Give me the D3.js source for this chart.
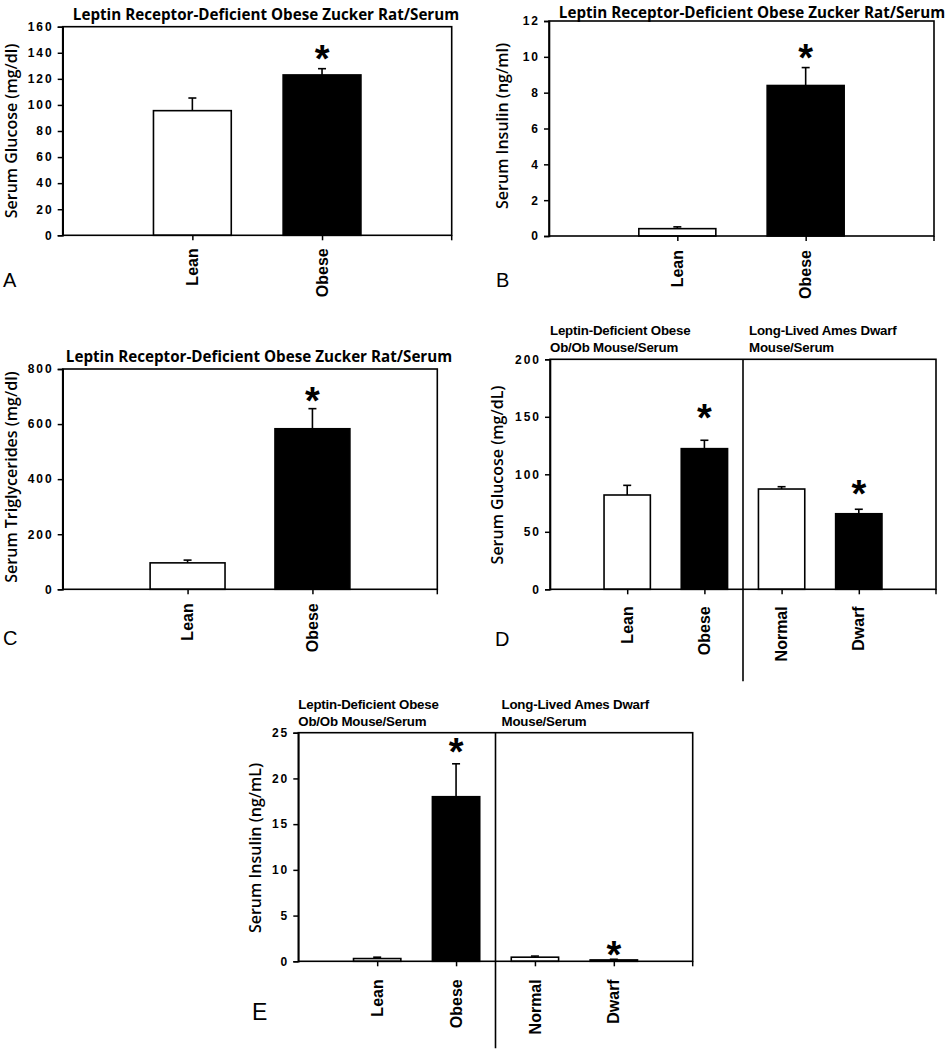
<!DOCTYPE html>
<html>
<head>
<meta charset="utf-8">
<script src="https://cdn.jsdelivr.net/npm/d3@7/dist/d3.min.js"></script>
<style>
  html, body { margin: 0; padding: 0; background: #fff; }
  svg { display: block; }
</style>
</head>
<body>
<svg id="chart" width="950" height="1050"></svg>
<script>
// ---------------- DATA ----------------
const ratCategories = ["Lean", "Obese"];
const mouseCategories = ["Lean", "Obese", "Normal", "Dwarf"];

const ratTitle = "Leptin Receptor-Deficient Obese Zucker Rat/Serum";
const mouseGroupLeft = ["Leptin-Deficient Obese", "Ob/Ob Mouse/Serum"];
const mouseGroupRight = ["Long-Lived Ames Dwarf", "Mouse/Serum"];

// Panel A – serum glucose (mg/dl)
const glucoseRat = [95.6, 123];
const glucoseRatErr = [9.7, 4.8];
const glucoseRatSig = [false, true];
const glucoseRatTicks = [0, 20, 40, 60, 80, 100, 120, 140, 160];

// Panel B – serum insulin (ng/ml)
const insulinRat = [0.41, 8.4];
const insulinRatErr = [0.1, 1.0];
const insulinRatSig = [false, true];
const insulinRatTicks = [0, 2, 4, 6, 8, 10, 12];

// Panel C – serum triglycerides (mg/dl)
const tgRat = [96, 583];
const tgRatErr = [10, 73];
const tgRatSig = [false, true];
const tgRatTicks = [0, 200, 400, 600, 800];

// Panel D – serum glucose (mg/dL), mice
const glucoseMouse = [82, 122.3, 87.2, 65.7];
const glucoseMouseErr = [8.4, 7.3, 2.0, 3.9];
const glucoseMouseSig = [false, true, false, true];
const glucoseMouseTicks = [0, 50, 100, 150, 200];

// Panel E – serum insulin (ng/mL), mice
const insulinMouse = [0.3, 18.0, 0.45, 0.15];
const insulinMouseErr = [0.15, 3.6, 0.12, 0.07];
const insulinMouseSig = [false, true, false, true];
const insulinMouseTicks = [0, 5, 10, 15, 20, 25];

const barFills = ["#ffffff", "#000000"]; // lean/normal white, obese/dwarf black

// ---------------- LAYOUT ----------------
const panels = [
  { letter: "A", cats: ratCategories, vals: glucoseRat, errs: glucoseRatErr, sig: glucoseRatSig,
    ticks: glucoseRatTicks, ylabel: "Serum Glucose (mg/dl)",
    box: { x0: 62.7, x1: 451.7, y0: 26.7, y1: 235.3 },
    title: { text: ratTitle, x: 266, y: 20 },
    ylab: { x: 14, y: 131 }, letterPos: { x: 3, y: 287 }, catGap: 13, starGap: [0, 18] },
  { letter: "B", cats: ratCategories, vals: insulinRat, errs: insulinRatErr, sig: insulinRatSig,
    ticks: insulinRatTicks, ylabel: "Serum Insulin (ng/ml)",
    box: { x0: 549, x1: 934, y0: 21, y1: 236 },
    title: { text: ratTitle, x: 752, y: 17.5 },
    ylab: { x: 505, y: 126 }, letterPos: { x: 496, y: 287 }, catGap: 14, starGap: [0, 18] },
  { letter: "C", cats: ratCategories, vals: tgRat, errs: tgRatErr, sig: tgRatSig,
    ticks: tgRatTicks, ylabel: "Serum Triglycerides (mg/dl)",
    box: { x0: 62.7, x1: 437.3, y0: 369, y1: 589.3 },
    title: { text: ratTitle, x: 259, y: 362 },
    ylab: { x: 14, y: 477 }, letterPos: { x: 3, y: 645 }, catGap: 14, starGap: [0, 16] },
  { letter: "D", cats: mouseCategories, vals: glucoseMouse, errs: glucoseMouseErr, sig: glucoseMouseSig,
    ticks: glucoseMouseTicks, ylabel: "Serum Glucose (mg/dL)",
    box: { x0: 550, x1: 936, y0: 359.3, y1: 589.3 },
    groups: true, dividerDown: 92,
    ylab: { x: 500, y: 475 }, letterPos: { x: 495, y: 646 }, catGap: 17, starGap: [0, 30, 0, 23] },
  { letter: "E", cats: mouseCategories, vals: insulinMouse, errs: insulinMouseErr, sig: insulinMouseSig,
    ticks: insulinMouseTicks, ylabel: "Serum Insulin (ng/mL)",
    box: { x0: 298.3, x1: 692.7, y0: 732.7, y1: 961.3 },
    groups: true, dividerDown: 87,
    ylab: { x: 258, y: 848 }, letterPos: { x: 252, y: 1020 }, letterSize: 23, catGap: 18, starGap: [0, 20, 0, 12] }
];

const svg = d3.select("#chart");
const ARIAL = "'Liberation Sans', Arial, sans-serif";
const CAL = "'Open Sans', 'Noto Sans', sans-serif";

panels.forEach(p => {
  const g = svg.append("g");
  const b = p.box;
  const x = d3.scalePoint().domain(p.cats).range([b.x0, b.x1]).padding(1);
  const y = d3.scaleLinear().domain([0, d3.max(p.ticks)]).range([b.y1, b.y0]);
  const barW = x.step() * 0.6;
  const rows = p.cats.map((c, i) => ({ cat: c, v: p.vals[i], e: p.errs[i], sig: p.sig[i], gap: p.starGap[i], fill: barFills[i % 2] }));

  // bars
  g.selectAll("rect.bar").data(rows).join("rect")
    .attr("class", "bar")
    .attr("x", d => x(d.cat) - barW / 2)
    .attr("y", d => y(d.v))
    .attr("width", barW)
    .attr("height", d => y(0) - y(d.v))
    .attr("fill", d => d.fill)
    .attr("stroke", "#000").attr("stroke-width", 1.6);

  // error bars (upper only)
  const eb = g.selectAll("g.err").data(rows).join("g").attr("class", "err");
  eb.append("line")
    .attr("x1", d => x(d.cat)).attr("x2", d => x(d.cat))
    .attr("y1", d => y(d.v)).attr("y2", d => y(d.v + d.e))
    .attr("stroke", "#000").attr("stroke-width", 1.6);
  eb.append("line")
    .attr("x1", d => x(d.cat) - 4).attr("x2", d => x(d.cat) + 4)
    .attr("y1", d => y(d.v + d.e)).attr("y2", d => y(d.v + d.e))
    .attr("stroke", "#000").attr("stroke-width", 1.6);

  // significance asterisks
  g.selectAll("text.star").data(rows.filter(d => d.sig)).join("text")
    .attr("class", "star")
    .attr("x", d => x(d.cat))
    .attr("y", d => y(d.v + d.e) - d.gap + 21)
    .attr("text-anchor", "middle")
    .attr("font-family", ARIAL).attr("font-weight", "bold").attr("font-size", 38)
    .text("*");

  // frame
  g.append("rect")
    .attr("x", b.x0).attr("y", b.y0)
    .attr("width", b.x1 - b.x0).attr("height", b.y1 - b.y0)
    .attr("fill", "none").attr("stroke", "#000").attr("stroke-width", 1.6);

  // y axis
  const yAxis = d3.axisLeft(y).tickValues(p.ticks).tickSize(5).tickPadding(4).tickFormat(d3.format("d"));
  const ya = g.append("g").attr("transform", `translate(${b.x0},0)`).call(yAxis);
  ya.select(".domain").attr("stroke-width", 1.6);
  ya.selectAll(".tick line").attr("stroke-width", 1.5);
  ya.selectAll(".tick text")
    .attr("font-family", ARIAL).attr("font-weight", "bold").attr("font-size", 12)
    .attr("letter-spacing", "2px").attr("fill", "#000");

  // x axis
  const xAxis = d3.axisBottom(x).tickSize(5).tickFormat("");
  const xa = g.append("g").attr("transform", `translate(0,${b.y1})`).call(xAxis);
  xa.select(".domain").remove();
  xa.selectAll(".tick line").attr("stroke-width", 1.5);
  g.append("line").attr("x1", b.x1).attr("x2", b.x1).attr("y1", b.y1).attr("y2", b.y1 + 5)
    .attr("stroke", "#000").attr("stroke-width", 1.5);

  // category labels (rotated)
  g.selectAll("text.cat").data(p.cats).join("text")
    .attr("class", "cat")
    .attr("transform", d => `translate(${x(d)},${b.y1 + p.catGap}) rotate(-90)`)
    .attr("dy", "0.35em")
    .attr("text-anchor", "end")
    .attr("font-family", ARIAL).attr("font-weight", "bold").attr("font-size", 16)
    .text(d => d);

  // y label
  g.append("text")
    .attr("transform", `translate(${p.ylab.x},${p.ylab.y}) rotate(-90)`)
    .attr("dy", "0.2em")
    .attr("text-anchor", "middle")
    .attr("font-family", CAL).attr("font-weight", 600).attr("font-size", 16)
    .text(p.ylabel);

  // title
  if (p.title) {
    g.append("text")
      .attr("x", p.title.x).attr("y", p.title.y)
      .attr("text-anchor", "middle")
      .attr("font-family", CAL).attr("font-weight", "bold").attr("font-size", 15.2)
      .text(p.title.text);
  }

  // group headings and divider
  if (p.groups) {
    const mid = (x(p.cats[1]) + x(p.cats[2])) / 2;
    g.append("line").attr("x1", mid).attr("x2", mid)
      .attr("y1", b.y0).attr("y2", b.y1 + p.dividerDown)
      .attr("stroke", "#000").attr("stroke-width", 1.6);
    [[mouseGroupLeft, b.x0], [mouseGroupRight, mid + 6]].forEach(([lines, gx]) => {
      lines.forEach((ln, k) => {
        g.append("text")
          .attr("x", gx).attr("y", b.y0 - 24 + k * 17)
          .attr("font-family", ARIAL).attr("font-weight", "bold").attr("font-size", 13.3)
          .attr("letter-spacing", "-0.2px")
          .text(ln);
      });
    });
  }

  // panel letter
  g.append("text")
    .attr("x", p.letterPos.x).attr("y", p.letterPos.y)
    .attr("font-family", ARIAL).attr("font-size", p.letterSize || 20)
    .text(p.letter);
});
</script>
</body>
</html>
